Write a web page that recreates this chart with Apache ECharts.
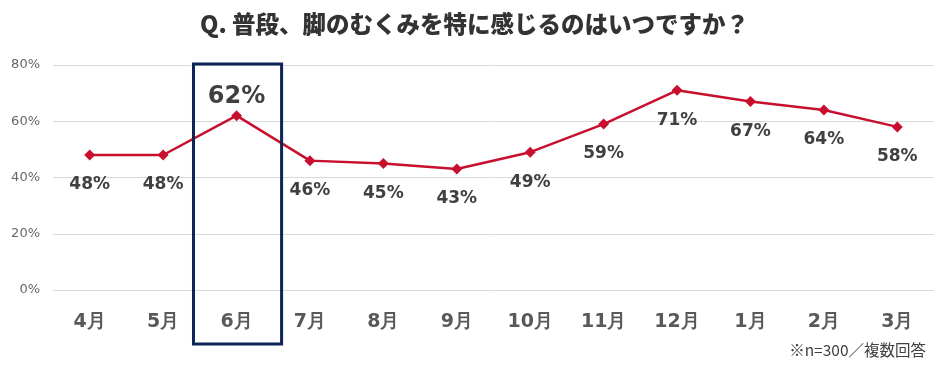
<!DOCTYPE html>
<html><head><meta charset="utf-8">
<script src="https://cdn.jsdelivr.net/npm/echarts@6/dist/echarts.min.js"></script>
<style>html,body{margin:0;padding:0;background:#fff}#c{width:949px;height:381px}</style>
</head><body><div id="c"></div>
<script>
const categories = ['4月','5月','6月','7月','8月','9月','10月','11月','12月','1月','2月','3月'];
const values = [48,48,62,46,45,43,49,59,71,67,64,58];
const yTicks = [0,20,40,60,80];
const highlight = '6月';
const titleText = 'Q. 普段、脚のむくみを特に感じるのはいつですか？';
const noteText = '※n=300／複数回答';

const chart = echarts.init(document.getElementById('c'));
const FONT = 'DejaVu Sans';
const hi = categories.indexOf(highlight);
chart.setOption({
  animation:false,
  title:{text:titleText,left:'center',top:7,textStyle:{fontFamily:'Noto Sans CJK JP',fontWeight:900,fontSize:23.5,color:'#333'}},
  grid:{left:53,right:15,top:65,bottom:91},
  xAxis:{type:'category',data:categories,boundaryGap:true,
    axisLine:{show:false},axisTick:{show:false},
    axisLabel:{margin:23,fontFamily:FONT,fontWeight:'bold',fontSize:19,color:'#595959'}},
  yAxis:{type:'value',min:yTicks[0],max:yTicks[yTicks.length-1],interval:20,
    axisLabel:{formatter:'{value}%',fontFamily:FONT,fontSize:13,color:'#666',margin:13},
    splitLine:{lineStyle:{color:'#d9d9d9',width:1}},axisLine:{show:false},axisTick:{show:false}},
  series:[{type:'line',data:values.map((v,i)=>{
      const d={value:v};
      if(i===hi){d.label={position:'top',distance:1,fontSize:24};}
      return d;}),
    symbol:'diamond',symbolSize:11,
    lineStyle:{color:'#c8102e',width:2.5},itemStyle:{color:'#c8102e'},
    label:{show:true,position:'bottom',distance:16,formatter:'{c}%',fontFamily:FONT,fontWeight:'bold',fontSize:17,color:'#404040'}
  }]
});
const px = chart.convertToPixel({xAxisIndex:0,yAxisIndex:0},[hi,yTicks[yTicks.length-1]]);
const band = chart.convertToPixel({xAxisIndex:0},1)-chart.convertToPixel({xAxisIndex:0},0);
const bw = band*1.2;
chart.setOption({graphic:[
  {type:'rect',shape:{x:px[0]-bw/2+1,y:px[1]-1,width:bw,height:280},style:{fill:'none',stroke:'#0c2457',lineWidth:3},z:100},
  {type:'text',right:23,bottom:23,style:{text:noteText,font:'15.5px "Noto Sans CJK JP"',fill:'#404040'}}
]});
</script></body></html>
